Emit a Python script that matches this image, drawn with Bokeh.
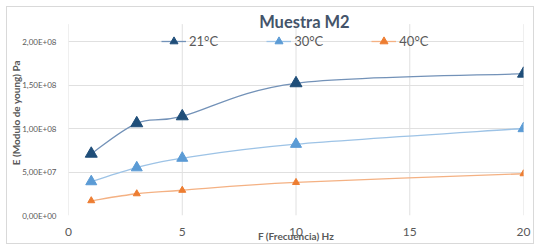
from bokeh.plotting import figure
from bokeh.models import (ColumnDataSource, FixedTicker, Legend, LegendItem, Label, Range1d)
from bokeh.embed import file_html
from bokeh.resources import INLINE

# ---- data ----
freq = [1, 3, 5, 10, 20]
e_21 = [7.1e7, 1.06e8, 1.14e8, 1.52e8, 1.63e8]
e_30 = [3.9e7, 5.5e7, 6.6e7, 8.2e7, 1.0e8]
e_40 = [1.7e7, 2.5e7, 2.9e7, 3.8e7, 4.8e7]
series_names = ["21°C", "30°C", "40°C"]
y_ticks = [0, 5e7, 1e8, 1.5e8, 2e8]
y_tick_labels = ["0,00E+00", "5,00E+07", "1,00E+08", "1,50E+08", "2,00E+08"]
x_ticks = [0, 5, 10, 15, 20]
y_grid_top = 2.2e8
title_text = "Muestra M2"
x_title = "F (Frecuencia) Hz"
y_title = "E  (Modulo de young) Pa"

FONT = "Lato"
GRAY = "#595959"
GRID = "#e0e0e0"


def smooth_segments(xs, ys):
    """Excel-like smoothed line: cubic bezier segments through the data points."""
    n = len(xs)
    d = dict(x0=[], y0=[], x1=[], y1=[], cx0=[], cy0=[], cx1=[], cy1=[])
    for i in range(n - 1):
        xp, yp = (xs[i - 1], ys[i - 1]) if i > 0 else (xs[i], ys[i])
        xn, yn = (xs[i + 2], ys[i + 2]) if i + 2 < n else (xs[i + 1], ys[i + 1])
        d["x0"].append(xs[i]); d["y0"].append(ys[i])
        d["x1"].append(xs[i + 1]); d["y1"].append(ys[i + 1])
        d["cx0"].append(xs[i] + (xs[i + 1] - xp) / 6.0)
        d["cy0"].append(ys[i] + (ys[i + 1] - yp) / 6.0)
        d["cx1"].append(xs[i + 1] - (xn - xs[i]) / 6.0)
        d["cy1"].append(ys[i + 1] - (yn - ys[i]) / 6.0)
    return ColumnDataSource(d)


p = figure(width=528, height=238, output_backend="svg", toolbar_location=None,
           x_range=Range1d(0, 20), y_range=Range1d(0, 2.391e8),
           min_border_left=61, min_border_right=12, min_border_top=0, min_border_bottom=30)
p.styles = {"margin-left": "6px", "margin-top": "6px", "border": "1px solid #d9d9d9"}
p.outline_line_color = None
p.background_fill_color = "white"
p.border_fill_color = "white"

p.xaxis.ticker = FixedTicker(ticks=x_ticks)
p.yaxis.ticker = FixedTicker(ticks=y_ticks)
p.yaxis.major_label_overrides = {t: l for t, l in zip(y_ticks, y_tick_labels)}
for ax in (p.xaxis[0], p.yaxis[0]):
    ax.axis_line_color = None
    ax.major_tick_line_color = None
    ax.minor_tick_line_color = None
    ax.major_label_text_color = GRAY
    ax.major_label_text_font = FONT
    ax.axis_label_text_color = GRAY
    ax.axis_label_text_font = FONT
    ax.axis_label_text_font_style = "bold"
p.xaxis.major_label_text_font_size = "12px"
p.yaxis.major_label_text_font_size = "8px"
p.xaxis.major_label_standoff = 6
p.yaxis.major_label_standoff = 6
p.xaxis.axis_label = x_title
p.yaxis.axis_label = y_title
p.xaxis.axis_label_text_font_size = "10px"
p.yaxis.axis_label_text_font_size = "10px"
p.xaxis.axis_label_standoff = -9
p.yaxis.axis_label_standoff = -3

p.xgrid.visible = False
p.ygrid.grid_line_color = GRID
p.ygrid.ticker = FixedTicker(ticks=y_ticks)
# vertical gridlines stop at the top of the plot area (below the title)
p.segment(x0=x_ticks, y0=[0] * len(x_ticks), x1=x_ticks, y1=[y_grid_top] * len(x_ticks),
          line_color=GRID, line_width=1)

styles = [
    (e_21, "#1f4e79", "#7392b8", 12),
    (e_30, "#5b9bd5", "#9dc3e6", 11),
    (e_40, "#ed7d31", "#f4b183", 7),
]
items = []
for name, (vals, mcol, lcol, size) in zip(series_names, styles):
    src = smooth_segments(freq, vals)
    b = p.bezier(x0="x0", y0="y0", x1="x1", y1="y1", cx0="cx0", cy0="cy0",
                 cx1="cx1", cy1="cy1", source=src, line_color=lcol, line_width=1.3)
    s = p.scatter(freq, vals, marker="triangle", size=size, fill_color=mcol,
                  line_color=mcol)
    items.append(LegendItem(label=name, renderers=[b, s]))

legend = Legend(items=items, orientation="horizontal", location=(93, 164),
                background_fill_alpha=0, border_line_color=None,
                label_text_font=FONT, label_text_font_size="13px",
                label_text_color=GRAY, glyph_width=25, spacing=48,
                label_standoff=3, margin=0, padding=4)
p.add_layout(legend)

p.add_layout(Label(x=10.37, y=2.224e8, text=title_text, text_align="center",
                   text_baseline="middle", text_font=FONT, text_font_size="16.5px",
                   text_font_style="bold", text_color="#44546a"))

open("out.html", "w").write(file_html(p, INLINE))
